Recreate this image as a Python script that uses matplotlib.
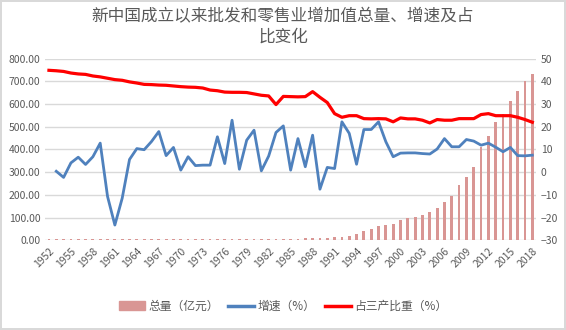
import numpy as np
import matplotlib
matplotlib.use('Agg')
import matplotlib.pyplot as plt
from matplotlib.patches import Patch
from matplotlib.lines import Line2D

plt.rcParams['font.family'] = ['Noto Sans CJK SC', 'DejaVu Sans']

# data
years = list(range(1952, 2019))

# 总量（亿元）
total = [5, 5, 5, 5, 5, 5, 5, 5, 5, 5, 5, 5, 5, 5, 5, 5, 5, 5, 5, 5,
         5, 5, 5, 5, 5, 5, 5, 5, 5, 5, 5, 5, 5, 6, 7, 8, 10, 11, 11, 13,
         15, 20, 28, 41, 50, 64, 68, 72, 90, 99, 103, 112, 126, 143, 169, 197, 244, 279,
         324, 413, 460, 519, 557, 615, 659, 703, 734]

# 增速（%），1953 起
growth = [0.4, -2.3, 4.1, 6.6, 3.4, 6.8, 12.8, -10.7, -23.3, -11.5, 5.6, 10.4, 9.9,
          13.5, 17.9, 7.3, 10.9, 0.9, 6.8, 2.9, 3.1, 3.1, 15.6, 3.8, 22.9, 1.3, 14.1,
          18.5, 0.6, 7.1, 17.5, 20.4, 0.9, 14.8, 2.4, 16.3, -7.5, 2.1, 1.6, 22.2, 17.1,
          3.5, 18.8, 18.8, 22.2, 13.4, 6.8, 8.4, 8.5, 8.5, 8.2, 8.0, 10.2, 14.8, 11.2,
          11.2, 14.4, 13.7, 11.9, 12.8, 11.0, 9.0, 10.9, 7.3, 7.2, 7.5]

# 占三产比重（%）
share = [44.9, 44.7, 44.4, 43.7, 43.3, 43.1, 42.4, 42.0, 41.4, 40.8, 40.5, 39.8, 39.3,
         38.7, 38.6, 38.4, 38.3, 38.0, 37.7, 37.5, 37.4, 37.1, 36.2, 35.9, 35.3, 35.2,
         35.2, 35.1, 34.5, 33.9, 33.6, 29.8, 33.4, 33.3, 33.2, 33.3, 35.5, 33.0, 30.7,
         25.8, 24.2, 24.9, 24.9, 23.6, 23.5, 23.6, 23.5, 22.2, 23.9, 23.5, 23.5, 22.9,
         21.7, 23.2, 22.9, 22.9, 23.6, 23.6, 23.6, 25.4, 25.8, 24.9, 24.9, 24.9, 24.2,
         23.2, 22.0]

title = '新中国成立以来批发和零售业增加值总量、增速及占\n比变化'
labels = ['总量（亿元）', '增速（%）', '占三产比重（%）']

bar_c = '#D99694'
blue_c = '#4F81BD'
red_c = '#FF0000'
txt_c = '#595959'

x = np.arange(len(years))

fig = plt.figure(figsize=(5.66, 3.30), dpi=100)
fig.patch.set_edgecolor('#D9D9D9')
fig.patch.set_linewidth(1.5)

ax = fig.add_axes([0.080, 0.272, 0.867, 0.550])
ax.bar(x, total, width=0.38, color=bar_c, zorder=2)
ax.set_ylim(0, 800)
ax.set_yticks(np.arange(0, 801, 100))
ax.set_yticklabels(['%.2f' % v for v in np.arange(0, 801, 100)])
ax.set_xlim(-0.5, len(years) - 0.5)
ax.set_xticks(x[::3])
ax.set_xticklabels([str(y) for y in years[::3]], rotation=45, ha='right',
                   rotation_mode='anchor')
ax.grid(axis='y', color='#D9D9D9', linewidth=1, zorder=0)
ax.set_axisbelow(True)
for s in ax.spines.values():
    s.set_visible(False)
ax.tick_params(length=0, colors=txt_c, labelsize=7.5)
ax.tick_params(axis='x', pad=4)

ax2 = ax.twinx()
ax2.plot(x[1:], growth, color=blue_c, linewidth=2.0, zorder=3)
ax2.plot(x, share, color=red_c, linewidth=2.3, zorder=4)
ax2.set_ylim(-30, 50)
ax2.set_yticks(np.arange(-30, 51, 10))
for s in ax2.spines.values():
    s.set_visible(False)
ax2.tick_params(length=0, colors=txt_c, labelsize=7.5)

fig.text(0.5, 0.975, title, ha='center', va='top', fontsize=12, color=txt_c,
         linespacing=1.3)

handles = [Patch(color=bar_c),
           Line2D([], [], color=blue_c, linewidth=2.5),
           Line2D([], [], color=red_c, linewidth=2.5)]
fig.legend(handles, labels, loc='center', bbox_to_anchor=(0.5, 0.072), ncol=3,
           frameon=False, fontsize=8.5, labelcolor=txt_c, handlelength=2.2,
           handletextpad=0.3, columnspacing=0.8)

fig.savefig('out.png', dpi=100)
